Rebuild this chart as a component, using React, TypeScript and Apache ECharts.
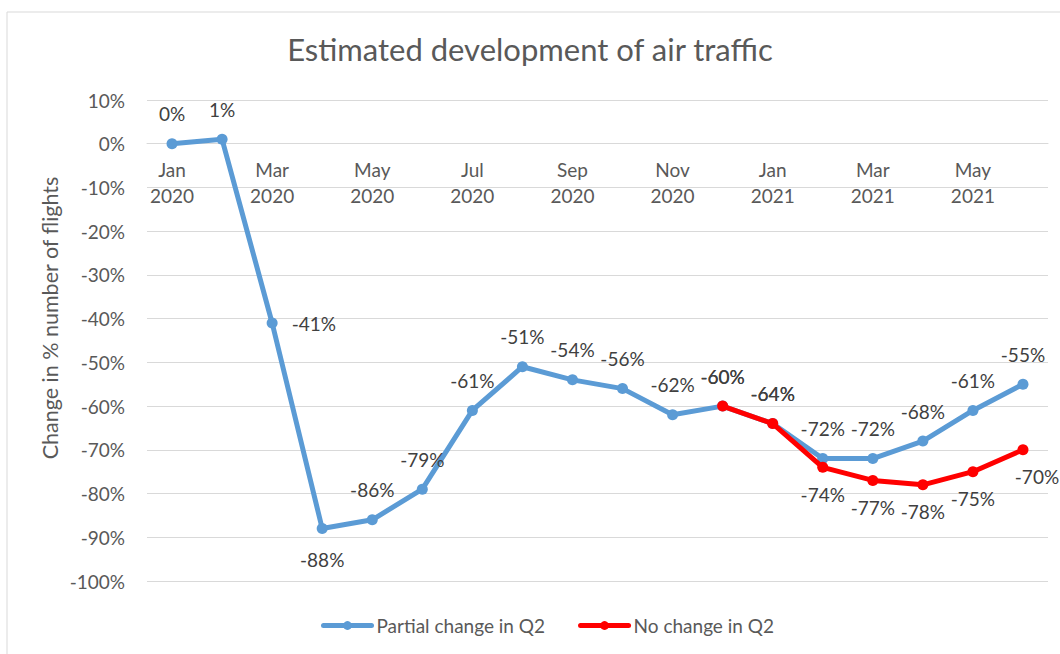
import React, { useEffect, useRef } from "react";
import * as echarts from "echarts";

const months = [
  "Jan\n2020", "Feb\n2020", "Mar\n2020", "Apr\n2020", "May\n2020", "Jun\n2020",
  "Jul\n2020", "Aug\n2020", "Sep\n2020", "Oct\n2020", "Nov\n2020", "Dec\n2020",
  "Jan\n2021", "Feb\n2021", "Mar\n2021", "Apr\n2021", "May\n2021", "Jun\n2021",
];
const partialChange = [0, 1, -41, -88, -86, -79, -61, -51, -54, -56, -62, -60, -64, -72, -72, -68, -61, -55];
const noChange = [null, null, null, null, null, null, null, null, null, null, null, -60, -64, -74, -77, -78, -75, -70];

const yMin = -100;
const yMax = 10;
const yStep = 10;

const title = "Estimated development of air traffic";
const yAxisTitle = "Change in % number of flights";
const seriesNames = ["Partial change in Q2", "No change in Q2"];

const FONT = "Lato";
const BLUE = "#5B9BD5";
const RED = "#FF0000";

export default function App() {
  const ref = useRef<HTMLDivElement>(null);
  useEffect(() => {
    if (!ref.current) return;
    const chart = echarts.init(ref.current, null, { renderer: "svg" });
    const gridTop = 100;
    const gridBottom = 73;
    const gridHeight = 654 - gridTop - gridBottom;
    const zeroOffset = -(gridHeight * (0 - yMin)) / (yMax - yMin);
    const labelStyle = { show: true, fontFamily: FONT, fontSize: 19, color: "#404040", formatter: (p: any) => `${p.value}%` };
    const blueData = partialChange.map((v, i) => {
      if (i === 2) return { value: v, label: { position: "right", distance: 14 } };
      if (i === 3) return { value: v, label: { position: "bottom", distance: 16 } };
      return { value: v, label: { position: "top", distance: 15 } };
    });
    const redData = noChange.map((v, i) => {
      if (v === null) return null;
      if (i <= 12) return { value: v, label: { position: "top", distance: 15 } };
      if (i === 17) return { value: v, label: { position: "bottom", distance: 12, offset: [14, 0] } };
      return { value: v, label: { position: "bottom", distance: 12 } };
    });
    chart.setOption({
      animation: false,
      backgroundColor: "#ffffff",
      title: {
        text: title,
        left: "center",
        top: 28,
        textStyle: { fontFamily: FONT, fontSize: 31, fontWeight: "normal", color: "#595959" },
      },
      graphic: [
        { type: "rect", shape: { x: 7, y: 12, width: 1100, height: 700 }, style: { fill: "none", stroke: "#d9d9d9", lineWidth: 1 }, silent: true },
        {
          type: "text",
          x: 50,
          y: 318,
          rotation: Math.PI / 2,
          style: { text: yAxisTitle, fontFamily: FONT, fontSize: 21.5, fill: "#595959", align: "center", verticalAlign: "middle" },
        },
      ],
      legend: {
        bottom: 14,
        left: 316,
        itemWidth: 48,
        itemHeight: 11,
        itemGap: 33,
        lineStyle: { width: 5 },
        textStyle: { fontFamily: FONT, fontSize: 19, color: "#595959" },
        data: seriesNames,
      },
      grid: { left: 147, right: 12, top: gridTop, bottom: gridBottom, containLabel: false },
      xAxis: {
        type: "category",
        data: months,
        boundaryGap: true,
        position: "bottom",
        offset: zeroOffset,
        axisLine: { show: true, onZero: false, lineStyle: { color: "#d9d9d9" } },
        axisTick: { show: false },
        axisLabel: { interval: 1, margin: 13, fontFamily: FONT, fontSize: 19, lineHeight: 26, color: "#595959" },
      },
      yAxis: {
        type: "value",
        min: yMin,
        max: yMax,
        interval: yStep,
        axisLine: { show: false },
        axisTick: { show: false },
        splitLine: { lineStyle: { color: "#d9d9d9" } },
        axisLabel: { formatter: (v: number) => `${v}%`, fontFamily: FONT, fontSize: 19, color: "#595959", margin: 22 },
      },
      series: [
        {
          name: seriesNames[0],
          type: "line",
          data: blueData,
          color: BLUE,
          lineStyle: { width: 5, color: BLUE, cap: "round", join: "round" },
          symbol: "circle",
          symbolSize: 11,
          itemStyle: { color: BLUE },
          label: labelStyle,
          z: 2,
        },
        {
          name: seriesNames[1],
          type: "line",
          data: redData,
          color: RED,
          lineStyle: { width: 5, color: RED, cap: "round", join: "round" },
          symbol: "circle",
          symbolSize: 11,
          itemStyle: { color: RED },
          label: labelStyle,
          z: 3,
        },
      ],
    });
    return () => chart.dispose();
  }, []);
  return <div ref={ref} style={{ position: "fixed", left: 0, top: 0, width: 1060, height: 654 }} />;
}
